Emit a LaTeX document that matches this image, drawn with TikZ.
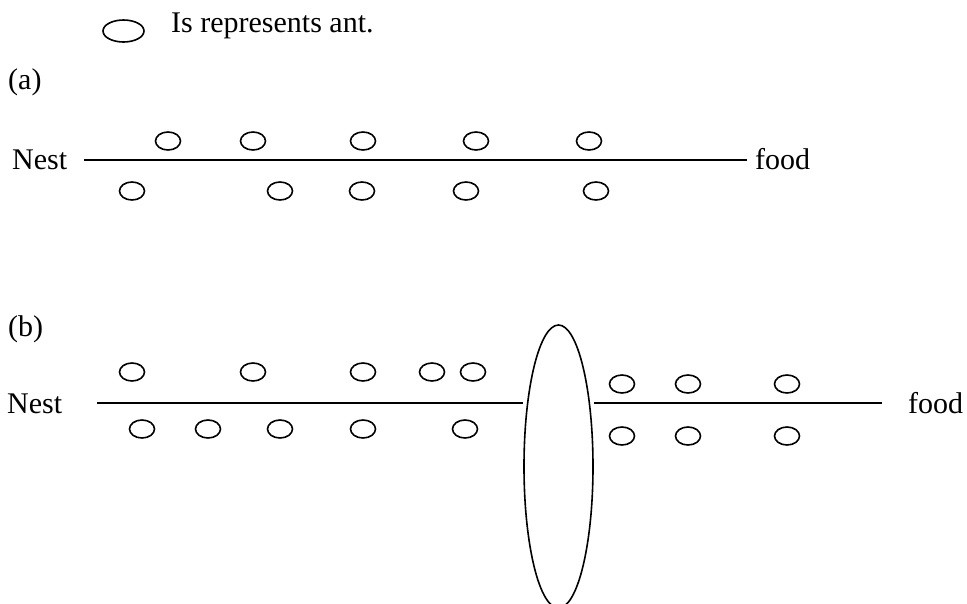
\documentclass[tikz,border=0pt]{standalone}
\usepackage{fontspec}
\setmainfont{Liberation Serif}
\usetikzlibrary{shapes.geometric}
\begin{document}
\begin{tikzpicture}[x=1pt,y=-1pt,
  ant/.style={draw, ellipse, line width=1.6pt, inner sep=0pt, minimum width=25pt, minimum height=18pt},
  legendant/.style={draw, ellipse, line width=1.6pt, inner sep=0pt, minimum width=41pt, minimum height=22pt},
  txt/.style={anchor=base west, inner sep=0pt, font=\fontsize{30}{36}\selectfont},
  trail/.style={line width=2pt}]
\useasboundingbox (0,0) rectangle (967,603);
\clip (0,0) rectangle (967,603);
% legend
\node[legendant] (legant) at (123.5,31) {};
\node[txt] (legtxt) at (171,32) {Is represents ant.};
% (a)
\node[txt] (lbla) at (8,89) {(a)};
\node[txt] (nesta) at (12,169) {Nest};
\node[txt] (fooda) at (755,169) {food};
\coordinate (as) at (84,160);
\coordinate (ae) at (747,160);
\draw[trail] (as) -- (ae);
\foreach \x [count=\i] in {168,253,363,476,589} \node[ant] (at\i) at (\x,141) {};
\foreach \x [count=\i] in {132,280,362,466,596} \node[ant] (ab\i) at (\x,191) {};
% (b)
\node[txt] (lblb) at (8,336) {(b)};
\node[txt] (nestb) at (7,413) {Nest};
\node[txt] (foodb) at (908,413) {food};
\node[draw, ellipse, line width=1.6pt, inner sep=0pt, minimum width=69pt, minimum height=283pt] (obst) at (558.5,466.5) {};
\coordinate (bs) at (97,403);
\coordinate (be) at (882,403);
\draw[trail] (bs) -- (obst.west |- bs);
\draw[trail] (obst.east |- bs) -- (be);
\foreach \x [count=\i] in {132,253,363,432,473} \node[ant] (blt\i) at (\x,372) {};
\foreach \x [count=\i] in {142,208,280,363,465} \node[ant] (blb\i) at (\x,429) {};
\foreach \x [count=\i] in {622,688,787} \node[ant] (brt\i) at (\x,384) {};
\foreach \x [count=\i] in {622,688,787} \node[ant] (brb\i) at (\x,436) {};
\end{tikzpicture}
\end{document}
